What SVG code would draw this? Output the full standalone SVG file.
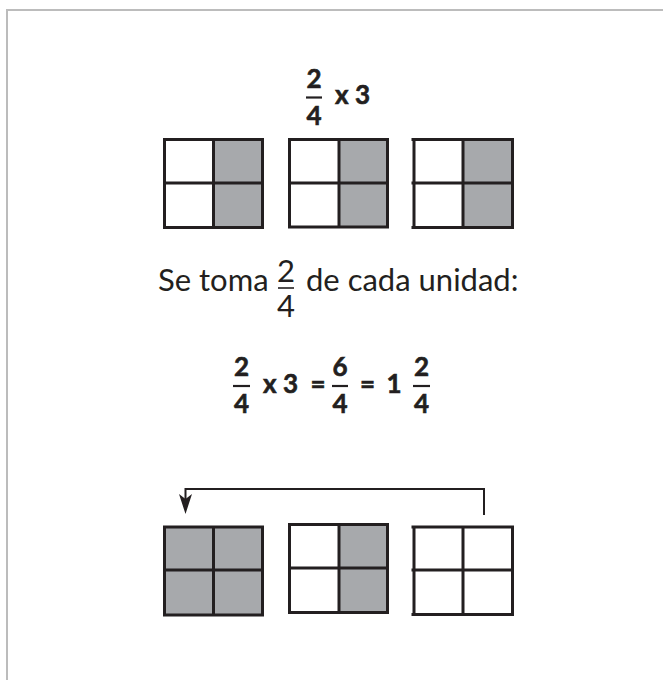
<svg xmlns="http://www.w3.org/2000/svg" width="663" height="680" viewBox="0 0 663 680">
<style>
.frame{fill:none;stroke:#bcbcbc;stroke-width:2}
.grid{fill:none;stroke:#231f20;stroke-width:3}
.sh{fill:#a7a9ac}
.bw{fill:#ffffff}
.b{font-family:Lato,"Liberation Sans",sans-serif;font-weight:bold;font-size:26px;fill:#231f20;stroke:#231f20;stroke-width:0.6}
.r{font-family:Lato,"Liberation Sans",sans-serif;font-size:31px;fill:#231f20}
.m{text-anchor:middle}
.bar{stroke:#231f20;stroke-width:2.2}
.conn{fill:none;stroke:#231f20;stroke-width:2}
.head{fill:#231f20}
</style>
<rect width="663" height="680" fill="#ffffff"/>
<path class="frame" d="M7,680 V10 H663"/>

<g id="title">
<text class="b m" x="314" y="88">2</text>
<line class="bar" x1="306" y1="97.5" x2="322" y2="97.5"/>
<text class="b m" x="314" y="125">4</text>
<text class="b" x="335" y="104">x</text>
<text class="b" x="355" y="104">3</text>
</g>

<g id="top-unit-1">
<rect class="bw" x="164.5" y="139.5" width="98" height="88"/>
<rect class="sh" x="213.5" y="139.5" width="49" height="88"/>
<rect class="grid" x="164.5" y="139.5" width="98" height="88"/>
<line class="grid" x1="213.5" y1="139.5" x2="213.5" y2="227.5"/>
<line class="grid" x1="164.5" y1="183" x2="262.5" y2="183"/>
</g>
<g id="top-unit-2">
<rect class="bw" x="289.5" y="139.5" width="98" height="87.5"/>
<rect class="sh" x="339" y="139.5" width="48.5" height="87.5"/>
<rect class="grid" x="289.5" y="139.5" width="98" height="87.5"/>
<line class="grid" x1="339" y1="139.5" x2="339" y2="227"/>
<line class="grid" x1="289.5" y1="183" x2="387.5" y2="183"/>
</g>
<g id="top-unit-3">
<rect class="sh" x="463" y="139.5" width="49.5" height="88"/>
<path class="grid" d="M411.5,139.5 H512.5 V227.5 H411.5 M414,139.5 V227.5 M463,139.5 V227.5 M411.5,183 H512.5"/>
</g>

<g id="sentence">
<text class="r" x="158" y="291">Se toma</text>
<text class="r m" x="286" y="282">2</text>
<line class="bar" x1="278" y1="288" x2="294" y2="288" style="stroke-width:1.6"/>
<text class="r m" x="286" y="317">4</text>
<text class="r" x="306" y="291">de cada unidad:</text>
</g>

<g id="equation">
<text class="b m" x="241.5" y="376">2</text>
<line class="bar" x1="233" y1="386" x2="250" y2="386"/>
<text class="b m" x="241.5" y="413">4</text>
<text class="b" x="263" y="393">x</text>
<text class="b" x="283" y="393">3</text>
<text class="b m" x="318" y="393">=</text>
<text class="b m" x="340" y="376">6</text>
<line class="bar" x1="332" y1="386" x2="348" y2="386"/>
<text class="b m" x="340" y="413">4</text>
<text class="b m" x="367.5" y="393">=</text>
<text class="b m" x="394" y="393">1</text>
<text class="b m" x="421.5" y="376">2</text>
<line class="bar" x1="413" y1="386" x2="430" y2="386"/>
<text class="b m" x="421.5" y="413">4</text>
</g>

<g id="bottom-unit-1">
<rect class="sh" x="164.5" y="527" width="98" height="88"/>
<rect class="grid" x="164.5" y="527" width="98" height="88"/>
<line class="grid" x1="213.5" y1="527" x2="213.5" y2="615"/>
<line class="grid" x1="164.5" y1="570" x2="262.5" y2="570"/>
</g>
<g id="bottom-unit-2">
<rect class="bw" x="289.5" y="524.5" width="98" height="88"/>
<rect class="sh" x="339" y="524.5" width="48.5" height="88"/>
<rect class="grid" x="289.5" y="524.5" width="98" height="88"/>
<line class="grid" x1="339" y1="524.5" x2="339" y2="612.5"/>
<line class="grid" x1="289.5" y1="568" x2="387.5" y2="568"/>
</g>
<g id="bottom-unit-3">
<path class="grid" d="M411.5,527 H512.5 V614.5 H411.5 M414,527 V614.5 M463,527 V614.5 M411.5,570 H512.5"/>
</g>

<g id="connectors">
<path class="conn" d="M484,515 V489 H185.5 V500"/>
<path class="head" d="M179,494 L185.5,499 L192,494 L185.5,514 Z"/>
</g>
</svg>
